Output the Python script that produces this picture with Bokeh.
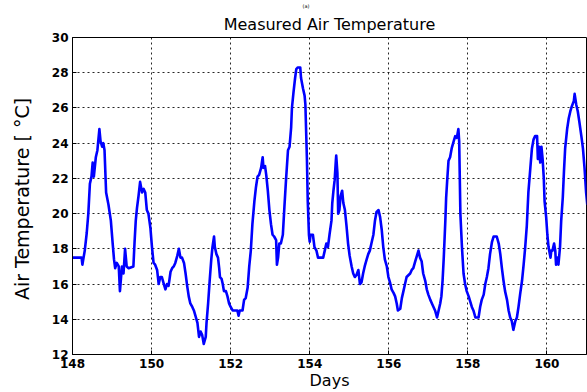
import math
from bokeh.plotting import figure
from bokeh.models import Range1d, FixedTicker, Title
from bokeh.embed import file_html
from bokeh.resources import INLINE

days = [148.00, 148.23, 148.25, 148.28, 148.31, 148.36, 148.40, 148.44, 148.48, 148.51,
        148.54, 148.59, 148.63, 148.68, 148.71, 148.75, 148.78, 148.81, 148.85, 148.91,
        148.97, 149.02, 149.05, 149.08, 149.12, 149.17, 149.20, 149.25, 149.29, 149.33,
        149.37, 149.42, 149.54, 149.57, 149.60, 149.63, 149.67, 149.71, 149.76, 149.80,
        149.84, 149.88, 149.92, 149.97, 150.01, 150.05, 150.09, 150.14, 150.18, 150.22,
        150.26, 150.31, 150.35, 150.39, 150.43, 150.48, 150.52, 150.56, 150.60, 150.65,
        150.69, 150.73, 150.77, 150.82, 150.86, 150.90, 150.94, 150.98, 151.03, 151.07,
        151.11, 151.16, 151.20, 151.24, 151.28, 151.32, 151.37, 151.39, 151.43, 151.47,
        151.51, 151.54, 151.58, 151.60, 151.64, 151.68, 151.71, 151.73, 151.77, 151.80,
        151.83, 151.88, 151.92, 151.96, 152.00, 152.05, 152.17, 152.20, 152.23, 152.30,
        152.34, 152.38, 152.43, 152.47, 152.51, 152.55, 152.60, 152.64, 152.68, 152.72,
        152.77, 152.81, 152.83, 152.87, 152.90, 152.94, 152.98, 153.02, 153.06, 153.10,
        153.15, 153.17, 153.20, 153.23, 153.27, 153.32, 153.36, 153.40, 153.45, 153.49,
        153.53, 153.55, 153.59, 153.63, 153.66, 153.70, 153.76, 153.78, 153.83, 153.87,
        153.89, 153.93, 153.95, 153.98, 154.00, 154.02, 154.08, 154.12, 154.17, 154.21,
        154.34, 154.38, 154.42, 154.46, 154.50, 154.55, 154.57, 154.60, 154.63, 154.66,
        154.67, 154.70, 154.72, 154.75, 154.78, 154.82, 154.85, 154.89, 154.93, 154.97,
        155.01, 155.06, 155.10, 155.14, 155.18, 155.23, 155.27, 155.31, 155.35, 155.39,
        155.44, 155.48, 155.52, 155.56, 155.61, 155.65, 155.69, 155.74, 155.78, 155.82,
        155.86, 155.90, 155.95, 155.99, 156.03, 156.07, 156.12, 156.16, 156.20, 156.23,
        156.29, 156.33, 156.37, 156.41, 156.45, 156.54, 156.58, 156.62, 156.67, 156.71,
        156.75, 156.79, 156.83, 156.87, 156.92, 156.96, 157.00, 157.05, 157.09, 157.13,
        157.17, 157.22, 157.26, 157.30, 157.33, 157.36, 157.39, 157.43, 157.45, 157.48,
        157.51, 157.55, 157.59, 157.64, 157.68, 157.72, 157.76, 157.78, 157.81, 157.85,
        157.89, 157.93, 157.97, 158.02, 158.06, 158.10, 158.14, 158.19, 158.27, 158.31,
        158.35, 158.40, 158.44, 158.48, 158.52, 158.56, 158.61, 158.65, 158.73, 158.78,
        158.82, 158.86, 158.90, 158.94, 158.99, 159.03, 159.07, 159.11, 159.15, 159.20,
        159.24, 159.28, 159.32, 159.37, 159.41, 159.45, 159.49, 159.53, 159.58, 159.62,
        159.66, 159.70, 159.75, 159.77, 159.80, 159.83, 159.86, 159.89, 159.92, 159.94,
        159.98, 160.01, 160.04, 160.09, 160.11, 160.14, 160.18, 160.21, 160.23, 160.27,
        160.29, 160.33, 160.36, 160.40, 160.43, 160.46, 160.51, 160.55, 160.59, 160.63,
        160.68, 160.70, 160.74, 160.78, 160.82, 160.87, 160.91, 160.95, 160.99, 161.02]

temps = [17.5, 17.5, 17.1, 17.5, 17.9, 18.9, 20.0, 21.7, 22.1, 22.9,
         22.1, 23.2, 23.6, 24.8, 24.1, 23.8, 24.0, 23.6, 21.2, 20.5,
         19.6, 18.2, 17.4, 16.9, 17.2, 17.0, 15.6, 17.0, 16.6, 18.0,
         17.0, 16.9, 17.0, 18.4, 19.6, 20.3, 21.0, 21.8, 21.2, 21.4,
         21.2, 20.2, 20.0, 19.2, 18.1, 17.2, 17.1, 16.8, 16.0, 16.4,
         16.4, 16.0, 15.7, 16.0, 15.9, 16.7, 16.9, 17.0, 17.2, 17.6,
         18.0, 17.5, 17.5, 17.2, 16.6, 15.9, 15.3, 14.9, 14.7, 14.5,
         14.2, 13.8, 13.0, 13.3, 13.1, 12.6, 13.0, 13.8, 14.9, 16.2,
         17.4, 18.1, 18.7, 18.1, 17.7, 17.5, 16.9, 16.4, 16.3, 16.0,
         15.6, 15.6, 15.3, 14.9, 14.7, 14.5, 14.5, 14.2, 14.5, 14.5,
         15.1, 15.2, 15.8, 17.0, 17.9, 19.4, 20.7, 21.5, 22.1, 22.2,
         22.6, 23.2, 22.6, 22.7, 22.2, 21.3, 20.2, 19.4, 18.8, 18.7,
         18.5, 17.1, 17.5, 18.3, 18.3, 18.8, 20.4, 21.9, 23.6, 23.8,
         24.9, 26.0, 26.9, 27.7, 28.2, 28.3, 28.3, 27.7, 27.1, 26.7,
         26.2, 23.0, 20.7, 18.8, 18.4, 18.8, 18.8, 18.1, 17.9, 17.5,
         17.5, 17.9, 18.3, 18.1, 18.8, 19.6, 20.6, 21.3, 21.9, 23.0,
         23.3, 22.3, 20.0, 20.2, 21.0, 21.3, 20.6, 20.2, 19.3, 18.3,
         17.6, 17.0, 16.6, 16.4, 16.5, 16.8, 16.0, 16.1, 16.6, 17.0,
         17.4, 17.7, 17.9, 18.3, 18.8, 19.6, 20.1, 20.2, 19.8, 19.1,
         18.1, 17.4, 17.0, 16.4, 16.1, 15.7, 15.5, 15.3, 14.9, 14.5,
         14.6, 15.2, 15.6, 16.0, 16.4, 16.6, 16.8, 16.9, 17.3, 17.6,
         17.9, 17.5, 17.3, 16.6, 16.2, 15.7, 15.4, 15.1, 14.9, 14.7,
         14.5, 14.1, 14.5, 14.9, 15.3, 16.2, 17.5, 19.6, 20.9, 22.0,
         23.0, 23.2, 23.7, 24.1, 24.4, 24.3, 24.8, 24.1, 20.0, 18.1,
         16.6, 16.0, 15.6, 15.3, 15.0, 14.7, 14.5, 14.1, 14.1, 14.7,
         15.1, 15.4, 16.0, 16.4, 16.9, 17.7, 18.4, 18.7, 18.7, 18.3,
         17.7, 16.9, 16.2, 15.6, 15.1, 14.5, 14.1, 13.9, 13.4, 13.9,
         14.1, 14.7, 15.4, 16.2, 17.1, 18.1, 19.3, 21.2, 22.6, 23.7,
         24.2, 24.4, 24.4, 23.1, 23.8, 22.9, 23.8, 23.1, 22.0, 20.7,
         19.8, 18.8, 18.1, 17.5, 17.9, 17.9, 18.3, 17.9, 17.1, 17.5,
         17.1, 18.1, 19.6, 20.9, 22.4, 23.7, 24.8, 25.4, 25.8, 26.1,
         26.4, 26.8, 26.2, 25.8, 25.2, 24.4, 23.7, 22.6, 21.2, 20.5]

x_ticks = [148, 150, 152, 154, 156, 158, 160]
y_ticks = [12, 14, 16, 18, 20, 22, 24, 26, 28, 30]

panel_tag = "(a)"
title_text = "Measured Air Temperature"
x_label = "Days"
y_label = "Air Temperature  [ \u00b0C]"

W, H = 587, 392
ML, MR, MT, MB = 72, 1, 36, 37

p = figure(width=W, height=H, output_backend="svg", toolbar_location=None,
           x_range=Range1d(148, 161), y_range=Range1d(12, 30),
           min_border_left=ML, min_border_right=MR,
           min_border_top=MT, min_border_bottom=MB)

# outermost: small panel tag
p.title.text = panel_tag
p.title.align = "left"
p.title.offset = 230
p.title.text_font = "DejaVu Sans"
p.title.text_font_style = "normal"
p.title.text_font_size = "5px"
p.title.text_color = "black"
p.title.standoff = 0

# main title, next to the frame
p.add_layout(Title(text=title_text, align="center",
                   text_font="DejaVu Sans", text_font_style="normal",
                   text_font_size="16px", text_color="black", standoff=8), "above")

p.background_fill_color = "white"
p.border_fill_color = "white"
p.outline_line_color = "black"
p.outline_line_width = 1

p.line(days, temps, line_color="#0000ff", line_width=2.6, line_join="round")

for ax in (p.xaxis[0], p.yaxis[0]):
    ax.major_label_text_font = "DejaVu Sans"
    ax.major_label_text_font_style = "bold"
    ax.major_label_text_font_size = "12px"
    ax.major_label_text_color = "black"
    ax.axis_line_color = "black"
    ax.major_tick_line_color = "black"
    ax.major_tick_in = 4
    ax.major_tick_out = 0
    ax.minor_tick_line_color = None
    ax.axis_label_text_font = "DejaVu Sans"
    ax.axis_label_text_font_style = "normal"
    ax.axis_label_text_color = "black"

p.xaxis[0].ticker = FixedTicker(ticks=x_ticks)
p.yaxis[0].ticker = FixedTicker(ticks=y_ticks)
p.xaxis[0].major_label_standoff = 4
p.yaxis[0].major_label_standoff = 4

p.xaxis[0].axis_label = x_label
p.xaxis[0].axis_label_text_font_size = "16px"
p.xaxis[0].axis_label_standoff = 0

p.yaxis[0].axis_label = y_label
p.yaxis[0].axis_label_text_font_size = "19px"
p.yaxis[0].axis_label_standoff = 16

p.xgrid.ticker = FixedTicker(ticks=x_ticks)
p.ygrid.ticker = FixedTicker(ticks=y_ticks)
for g in (p.xgrid[0], p.ygrid[0]):
    g.grid_line_color = "black"
    g.grid_line_dash = "2 3"
    g.grid_line_width = 1
    g.grid_line_alpha = 0.85

open("out.html", "w").write(file_html(p, INLINE))
